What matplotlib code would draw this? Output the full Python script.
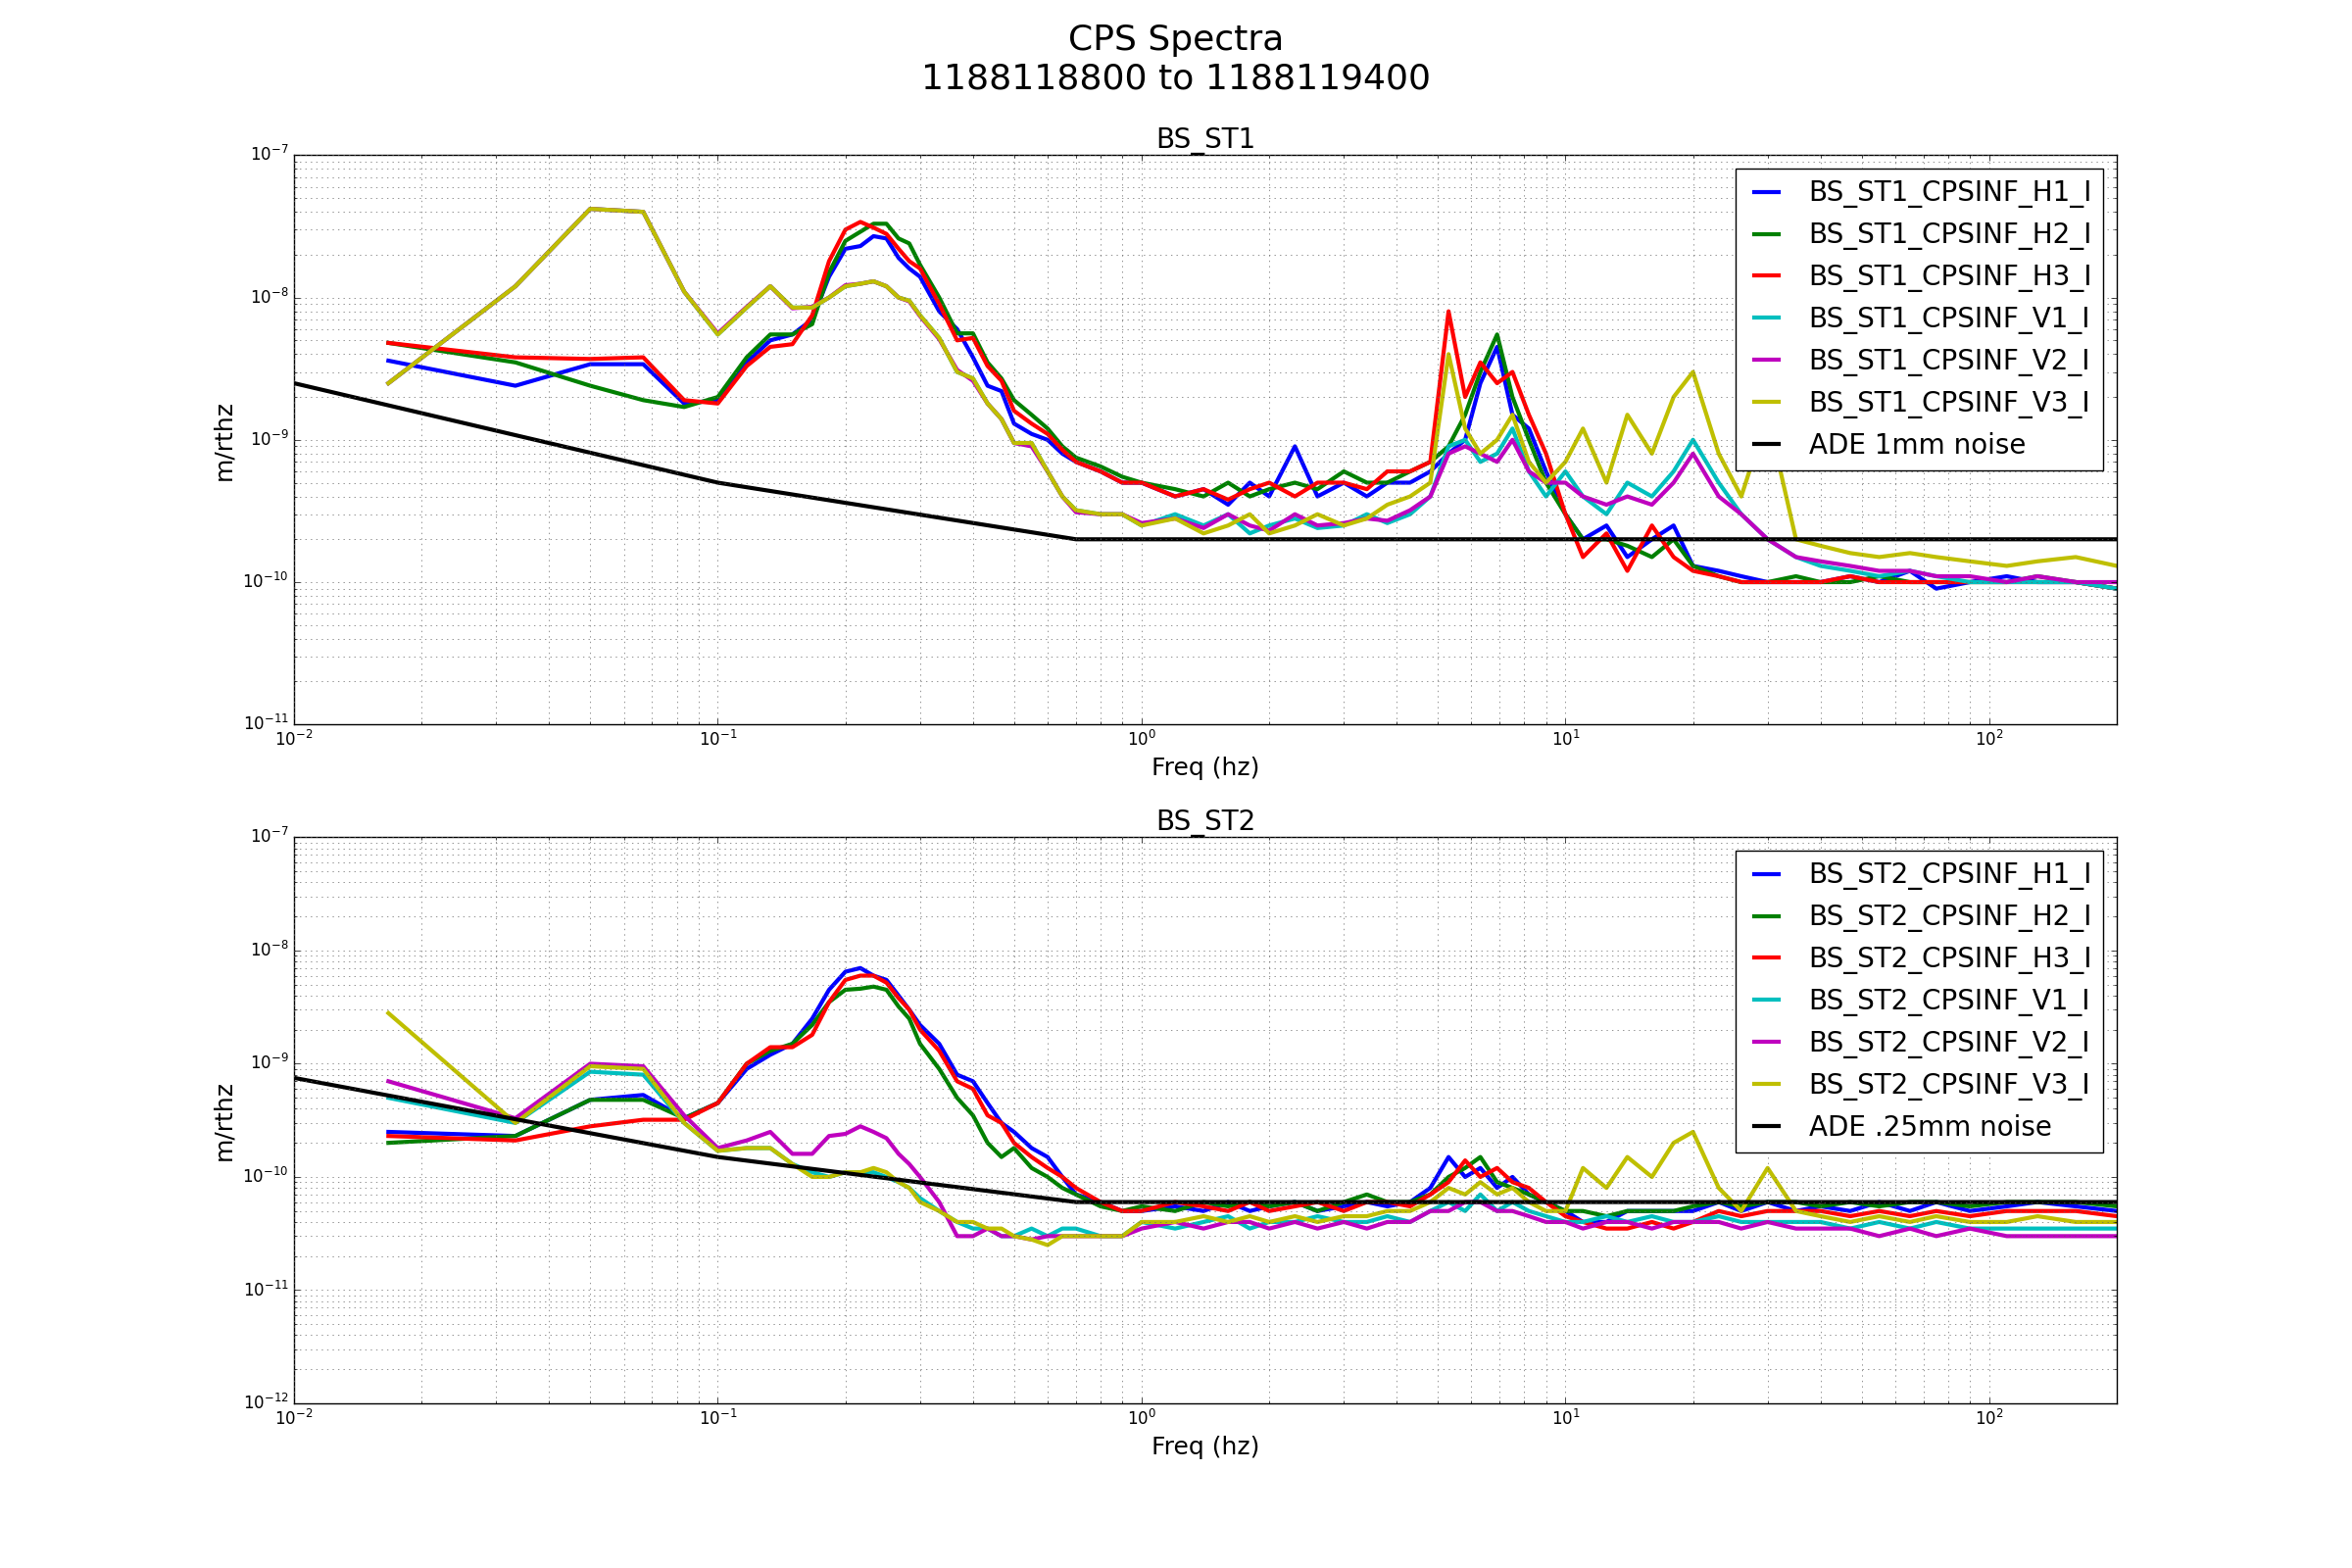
import matplotlib
matplotlib.use('Agg')
import matplotlib.pyplot as plt
import numpy as np

f_lo = [0.0167,0.0333,0.05,0.0667,0.0833,0.1,0.117,0.133,0.15,0.167,0.183,0.2,0.217,0.233,0.25,0.267,0.283,0.3,0.333,0.367,0.4,0.433,0.467,0.5,0.55,0.6,0.65,0.7,0.8,0.9]
f_hi = [1.0,1.2,1.4,1.6,1.8,2.0,2.3,2.6,3.0,3.4,3.8,4.3,4.8,5.3,5.8,6.3,6.9,7.5,8.2,9,10,11,12.5,14,16,18,20,23,26,30,35,40,47,55,65,75,90,110,130,160,200]

# ST1: low region in 1e-9, high region in 1e-10
st1_lo = {
 'H1': [3.6,2.4,3.4,3.4,1.8,1.9,3.5,5.0,5.5,7,14,22,23,27,26,19,16,14,8,6,3.8,2.4,2.2,1.3,1.1,1.0,0.8,0.7,0.6,0.5],
 'H2': [4.8,3.5,2.4,1.9,1.7,2.0,3.8,5.5,5.5,6.5,15,25,29,33,33,26,24,17,10,5.6,5.6,3.5,2.7,1.9,1.5,1.2,0.9,0.75,0.65,0.55],
 'H3': [4.8,3.8,3.7,3.8,1.9,1.8,3.3,4.5,4.7,7.5,18,30,34,31,28,22,18,16,9,5,5.2,3.3,2.6,1.6,1.3,1.1,0.85,0.7,0.6,0.5],
 'V1': [2.5,12,42,40,11,5.5,8.5,12,8.5,8.5,10,12,12.5,13,12,10,9.5,7.5,5.2,3,2.7,1.8,1.4,0.95,0.95,0.6,0.4,0.32,0.3,0.3],
 'V2': [2.5,12,42,40,11,5.6,8.6,12,8.4,8.6,10,12.2,12.5,13,12,10,9.4,7.4,5.1,3.1,2.6,1.8,1.4,0.95,0.9,0.6,0.4,0.31,0.3,0.3],
 'V3': [2.5,12,42,40,11,5.5,8.5,12,8.5,8.5,10,12,12.5,13,12,10,9.5,7.5,5.2,3,2.7,1.8,1.4,0.95,0.95,0.6,0.4,0.32,0.3,0.3],
}
st1_hi = {
 'H1': [5,4,4.5,3.5,5,4,9,4,5,4,5,5,6,8,10,25,45,15,12,6,3,2,2.5,1.5,2,2.5,1.3,1.2,1.1,1.0,1.0,1.0,1.1,1.0,1.2,0.9,1.0,1.1,1.0,1.0,0.9],
 'H2': [5,4.5,4,5,4,4.5,5,4.5,6,5,5,6,7,9,15,30,55,20,10,5,3,2,2,1.8,1.5,2,1.3,1.1,1.0,1.0,1.1,1.0,1.0,1.1,1.0,1.0,1.0,1.0,1.1,1.0,0.9],
 'H3': [5,4,4.5,3.8,4.5,5,4,5,5,4.5,6,6,7,80,20,35,25,30,15,8,3,1.5,2.2,1.2,2.5,1.5,1.2,1.1,1.0,1.0,1.0,1.0,1.1,1.0,1.0,1.0,1.0,1.0,1.0,1.0,0.9],
 'V1': [2.5,3,2.5,3,2.2,2.5,2.8,2.4,2.5,3,2.6,3,4,9,10,7,8,12,6,4,6,4,3,5,4,6,10,5,3,2,1.5,1.3,1.2,1.1,1.2,1.1,1.0,1.0,1.0,1.0,0.9],
 'V2': [2.6,2.8,2.4,3,2.5,2.3,3,2.5,2.6,2.8,2.7,3.2,4,8,9,8,7,10,6,5,5,4,3.5,4,3.5,5,8,4,3,2,1.5,1.4,1.3,1.2,1.2,1.1,1.1,1.0,1.1,1.0,1.0],
 'V3': [2.5,2.8,2.2,2.5,3,2.2,2.5,3,2.5,2.8,3.5,4,5,40,12,8,10,15,7,5,7,12,5,15,8,20,30,8,4,15,2,1.8,1.6,1.5,1.6,1.5,1.4,1.3,1.4,1.5,1.3],
}
# ST2: low region in 1e-10, high region in 1e-11
st2_lo = {
 'H1': [2.5,2.3,4.8,5.3,3.3,4.5,9,12,15,25,45,65,70,60,55,40,30,22,15,8,7,4.5,3,2.5,1.8,1.5,1.0,0.7,0.6,0.5],
 'H2': [2.0,2.3,4.8,4.8,3.3,4.5,10,13,15,22,35,45,46,48,45,32,25,15,9,5,3.5,2,1.5,1.8,1.2,1.0,0.8,0.7,0.55,0.5],
 'H3': [2.3,2.1,2.8,3.2,3.2,4.5,10,14,14,18,35,55,60,60,52,38,30,20,13,7,6,3.5,3,2,1.5,1.2,1.0,0.8,0.6,0.5],
 'V1': [5,3,8.5,8,3,1.7,1.8,1.8,1.3,1.1,1.0,1.1,1.1,1.1,1.0,0.9,0.8,0.65,0.5,0.4,0.35,0.35,0.3,0.3,0.35,0.3,0.35,0.35,0.3,0.3],
 'V2': [7,3.3,10,9.5,3.5,1.8,2.1,2.5,1.6,1.6,2.3,2.4,2.8,2.5,2.2,1.6,1.3,1.0,0.6,0.3,0.3,0.35,0.3,0.3,0.28,0.3,0.3,0.3,0.3,0.3],
 'V3': [28,3,9.5,9,3,1.7,1.8,1.8,1.3,1.0,1.0,1.1,1.1,1.2,1.1,0.9,0.8,0.6,0.5,0.4,0.4,0.35,0.35,0.3,0.28,0.25,0.3,0.3,0.3,0.3],
}
st2_hi = {
 'H1': [5,5.5,5,6,5,5.5,6,5,5.5,6,5.5,6,8,15,10,12,8,10,7,6,5,4,4,5,5,5,5,6,5,6,5,5.5,5,6,5,6,5,5.5,6,5.5,5],
 'H2': [5.5,5,6,5.5,6,5.5,6,5,6,7,6,6,7,10,12,15,9,8,7,6,5,5,4.5,5,5,5,5.5,6,5.5,6,6,5.5,6,5.5,6,6,5.5,6,6,6,5.5],
 'H3': [5,6,5.5,5,6,5,5.5,6,5,6,6,5.5,7,9,14,10,12,9,8,6,4.5,4,3.5,3.5,4,3.5,4,5,4.5,5,5,5,4.5,5,4.5,5,4.5,5,5,5,4.5],
 'V1': [4,3.5,4,4.5,3.5,4,4,4.5,4,4,4.5,4,5,6,5,7,5,6,5,4.5,4,4,4.5,4,4.5,4,4,4.5,4,4,4,4,3.5,4,3.5,4,3.5,3.5,3.5,3.5,3.5],
 'V2': [3.5,4,3.5,4,4,3.5,4,3.5,4,3.5,4,4,5,5,6,6,5,5,4.5,4,4,3.5,4,4,3.5,4,4,4,3.5,4,3.5,3.5,3.5,3,3.5,3,3.5,3,3,3,3],
 'V3': [4,4,4.5,4,4.5,4,4.5,4,4.5,4.5,5,5,6,8,7,9,7,8,6,5,5,12,8,15,10,20,25,8,5,12,5,4.5,4,4.5,4,4.5,4,4,4.5,4,4],
}
ade_f = [0.01, 0.1, 0.7, 200]
ade1 = [2.5e-9, 5e-10, 2e-10, 2e-10]
ade2 = [7.5e-10, 1.5e-10, 6e-11, 6e-11]

chans = ['H1','H2','H3','V1','V2','V3']
colors = ['b','g','r','c','m','y']

plt.style.use('classic')
fig = plt.figure(figsize=(24,16), dpi=100)
fig.suptitle('CPS Spectra\n1188118800 to 1188119400', fontsize=26, y=0.985)

def panel(rect, name, lo, hi, slo, shi, ade, adelabel, ymin):
    ax = fig.add_axes(rect)
    f = np.array(f_lo + f_hi)
    for c, col in zip(chans, colors):
        y = np.array([v*slo for v in lo[c]] + [v*shi for v in hi[c]])
        ax.loglog(f, y, color=col, lw=3, label=f'{name}_CPSINF_{c}_I')
    ax.loglog(ade_f, ade, color='k', lw=3, label=adelabel)
    ax.set_xlim(0.01, 200)
    ax.set_ylim(ymin, 1e-7)
    ax.grid(True, which='both', ls=':', color='0.4')
    ax.set_title(name, fontsize=20)
    ax.set_xlabel('Freq (hz)', fontsize=18)
    ax.set_ylabel('m/rthz', fontsize=18)
    ax.tick_params(labelsize=12)
    ax.legend(loc='upper right', fontsize=20, handlelength=1.5)
    return ax

panel([0.125, 0.538, 0.775, 0.363], 'BS_ST1', st1_lo, st1_hi, 1e-9, 1e-10, ade1, 'ADE 1mm noise', 1e-11)
panel([0.125, 0.105, 0.775, 0.361], 'BS_ST2', st2_lo, st2_hi, 1e-10, 1e-11, ade2, 'ADE .25mm noise', 1e-12)

fig.savefig('out.png', dpi=100)
